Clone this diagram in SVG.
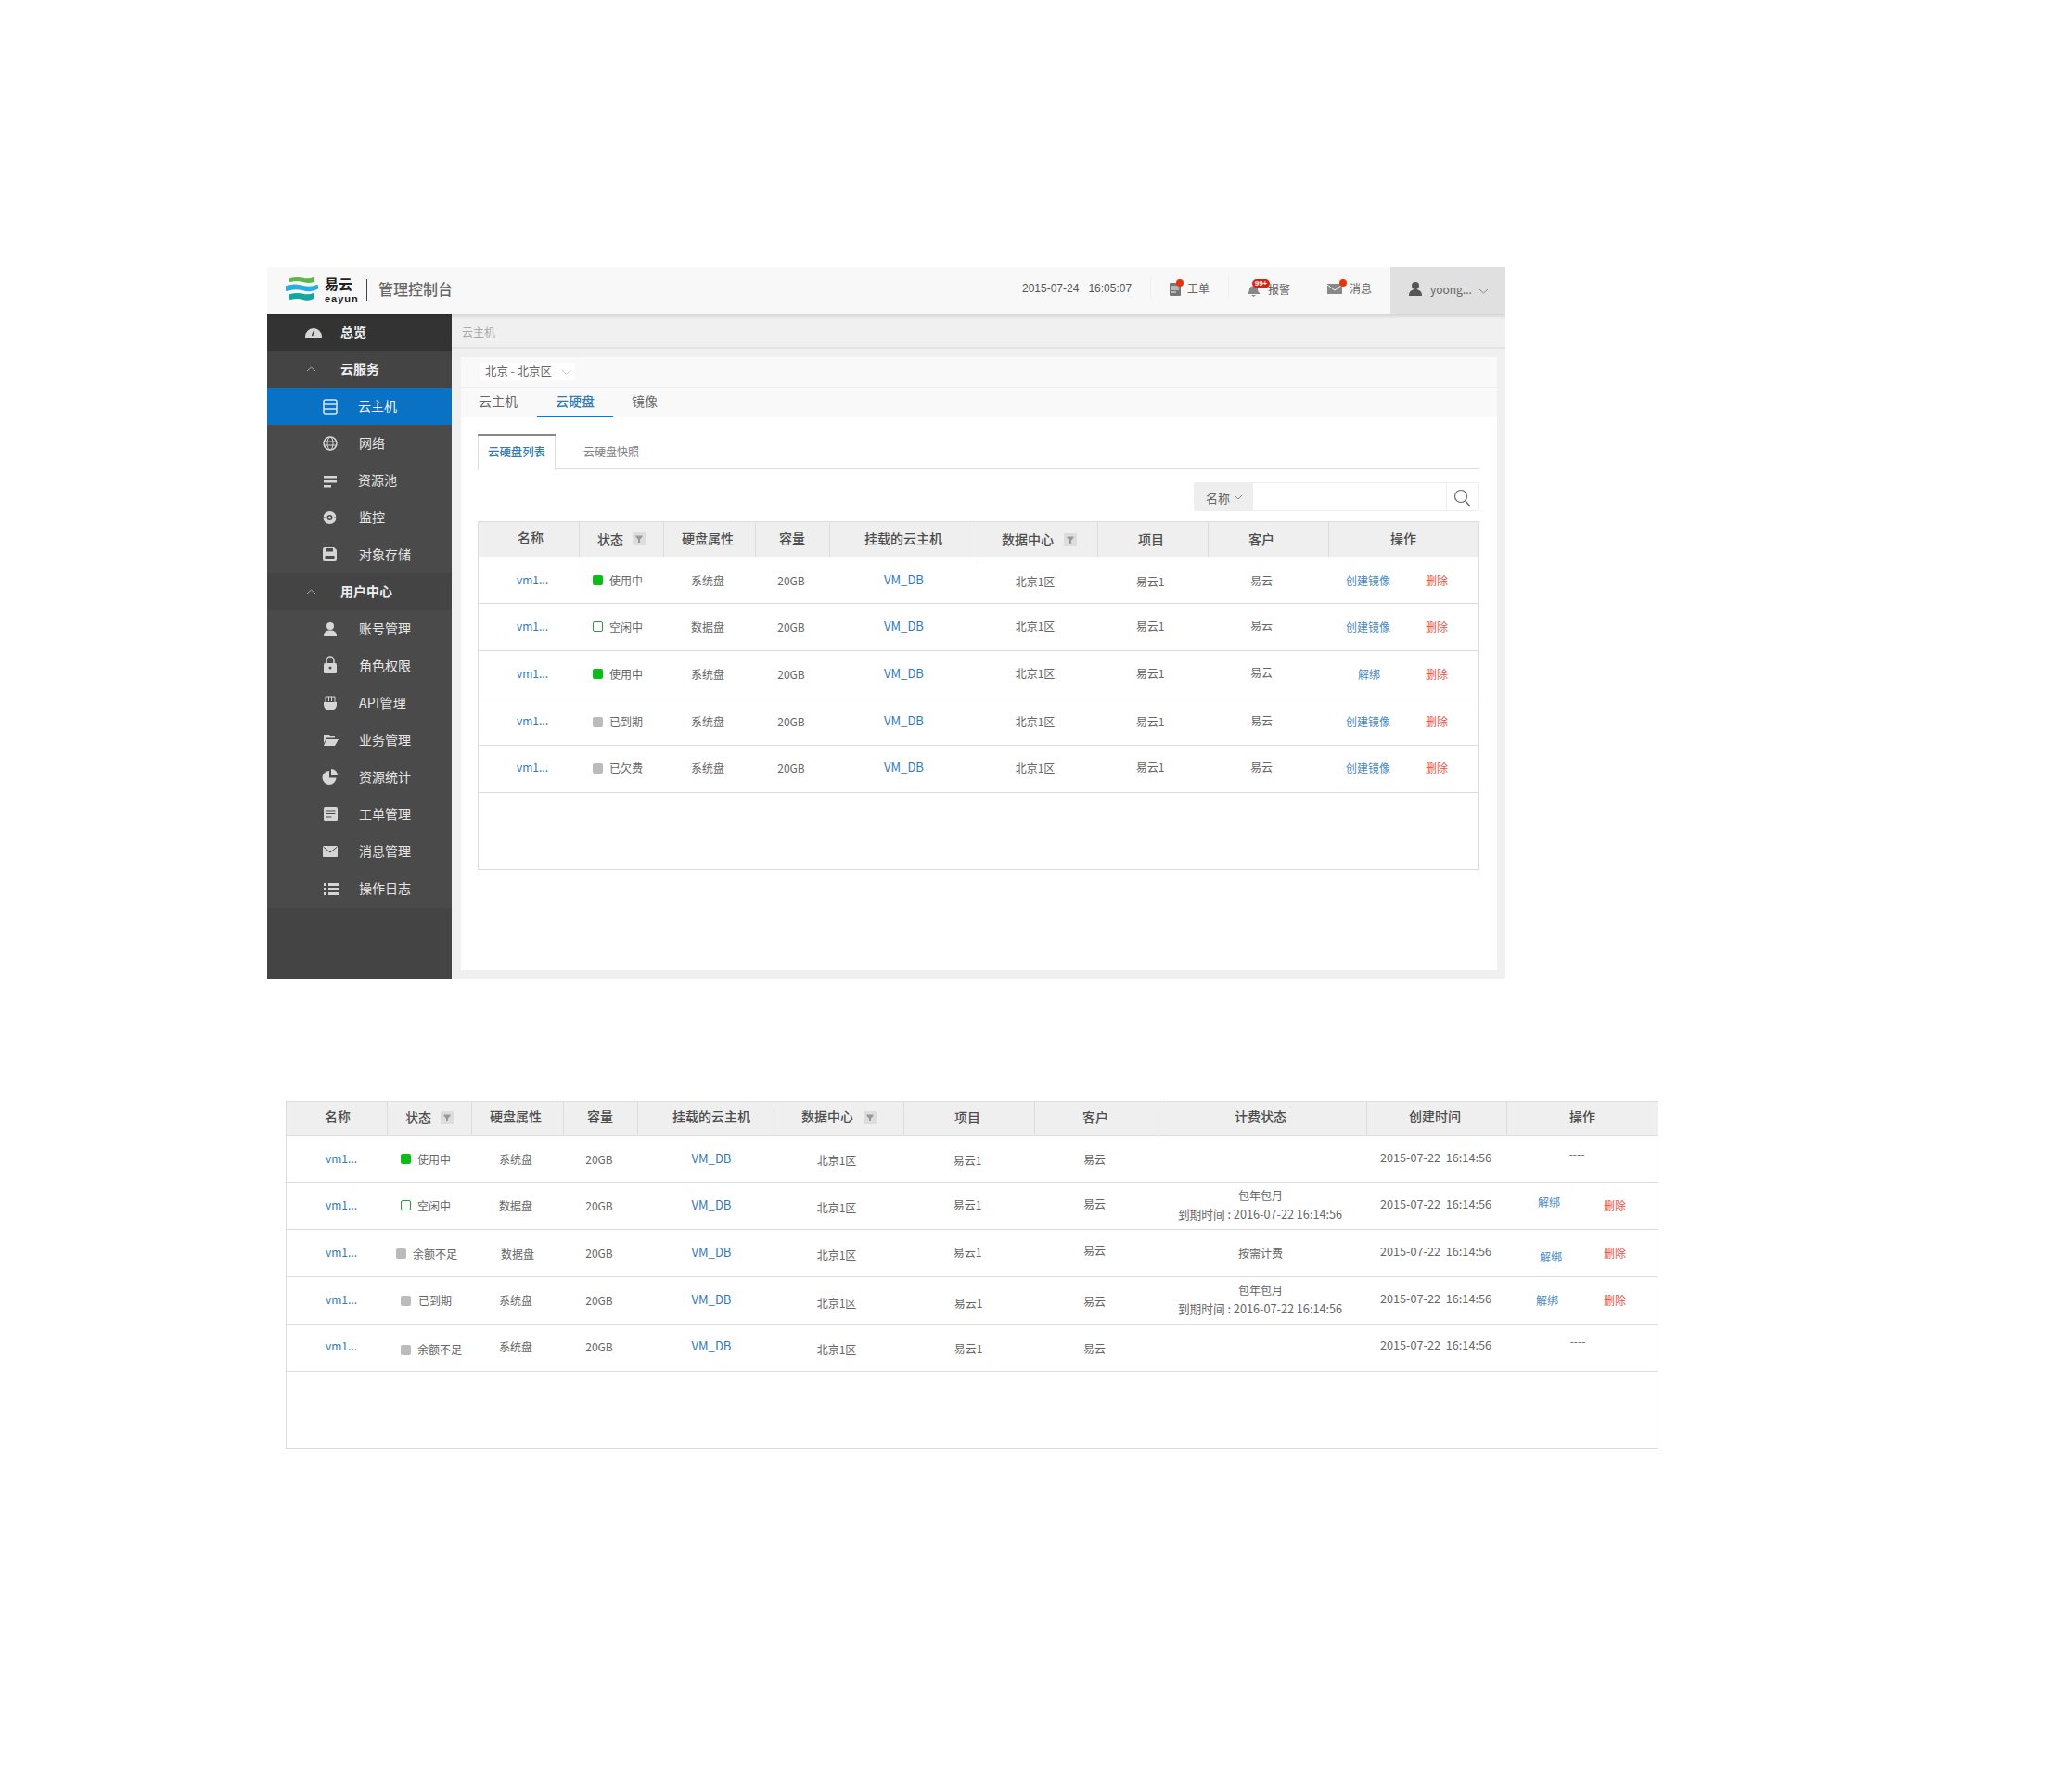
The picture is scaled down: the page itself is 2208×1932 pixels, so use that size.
<svg xmlns="http://www.w3.org/2000/svg" width="2208" height="1932" viewBox="0 0 2208 1932">
<style>
text{font-family:"Noto Sans CJK SC","Noto Sans",sans-serif;dominant-baseline:central;font-size:12px;fill:#666;transform:translateY(-1px)}
.m{text-anchor:middle}
.tm{text-anchor:middle;font-size:12.700px}
.h{font-size:14px;fill:#4d4d4d;font-weight:500;text-anchor:middle}
.l{fill:#2f7ab9;text-anchor:middle}
.v{fill:#2f7ab9;text-anchor:middle;font-size:13px}
.a{fill:#4a8ac6;text-anchor:middle}
.d{fill:#e2553f;text-anchor:middle}
.n{font-size:14px;fill:#e6e6e6}
.nb{font-size:14px;fill:#eee;font-weight:700}
.g{fill:#0bbd14}
.o{fill:#fff;stroke:#2b9a40;stroke-width:1}
.x{fill:#bbb}
.ln{stroke:#ddd;stroke-width:1;fill:none}
.sep{stroke:#dcdcdc;stroke-width:1}
.ic{fill:#d6d6d6}
.ics{fill:none;stroke:#d6d6d6;stroke-width:1.5}
.chev{fill:none;stroke:#888;stroke-width:1}
.fi{fill:#ddd}
.ff{fill:#999}
</style>
<defs>
<g id="flt"><rect width="14" height="14" rx="1" class="fi"/><path d="M3.500 3.500h7v1.500L8 7.500V11H6V7.500L3.500 5z" class="ff"/></g>
<linearGradient id="shadow" x1="0" y1="0" x2="0" y2="1"><stop offset="0" stop-color="#000" stop-opacity=".14"/><stop offset="1" stop-color="#000" stop-opacity="0"/></linearGradient>
</defs>
<rect width="2208" height="1932" fill="#fff"/>

<g id="main-bg">
<rect x="487" y="338" width="1136" height="718" fill="#f0f0f0"/>
<line x1="487" y1="375" x2="1623" y2="375" stroke="#d8d8d8"/>
<text x="498" y="358" style="fill:#aaa">云主机</text>
<rect x="497" y="385" width="1117" height="661" fill="#fff"/>
<rect x="497" y="385" width="1117" height="65" fill="#f9f9f9"/>
<line x1="497" y1="417.500" x2="1614" y2="417.500" stroke="#f0f0f0"/>
</g>

<g id="region-select">
<rect x="517" y="391" width="103" height="19" fill="#fff"/>
<text x="523" y="401" xml:space="preserve" style="font-size:12.400px">北京 - 北京区</text>
<path d="M606 399l4.500 4.500 4.500-4.500" fill="none" stroke="#ccc"/>
</g>

<g id="tabs">
<text x="516" y="433" style="font-size:14px">云主机</text>
<text x="599" y="433" style="font-size:14px;fill:#2f7ab9;font-weight:500">云硬盘</text>
<text x="681" y="433" style="font-size:14px">镜像</text>
<rect x="579" y="448" width="82" height="2" fill="#1a75bc"/>
</g>

<g id="subtabs">
<line x1="515" y1="505.500" x2="1595" y2="505.500" class="ln"/>
<rect x="515.500" y="468.500" width="83" height="38" fill="#fff" stroke="#ddd"/>
<rect x="516" y="505" width="82" height="2" fill="#fff"/>
<rect x="515" y="468" width="84" height="2" fill="#888"/>
<text x="526" y="488" style="fill:#2f7ab9;font-weight:500;font-size:12.400px">云硬盘列表</text>
<text x="629" y="487" style="fill:#808080">云硬盘快照</text>
</g>

<g id="search">
<rect x="1287.500" y="520.500" width="307" height="30" rx="2" fill="#fff" stroke="#eee"/>
<path d="M1287 522.500a2 2 0 0 1 2-2h62v30h-62a2 2 0 0 1-2-2z" fill="#eee"/>
<text x="1300" y="537" style="font-size:13px">名称</text>
<path d="M1331 534l4 4 4-4" class="chev"/>
<line x1="1559.500" y1="521" x2="1559.500" y2="550" stroke="#eee"/>
<circle cx="1575" cy="535" r="6.500" fill="none" stroke="#666" stroke-width="1.200"/>
<line x1="1580" y1="540" x2="1585" y2="546" stroke="#666" stroke-width="1.400"/>
</g>

<g id="table-1">
<rect x="515.500" y="562.500" width="1079" height="375" fill="#fff" stroke="#ddd"/>
<rect x="516" y="563" width="1078" height="37" fill="#efefef"/>
<path class="ln" d="M515 600.500H1595M515 650.500H1595M515 701.500H1595M515 752.500H1595M515 803.500H1595M515 854.500H1595"/>
<path class="sep" d="M624.500 563V600M715.500 563V600M814.500 563V600M894.500 563V600M1055.500 563V604M1183.500 563V600M1302.500 563V600M1432.500 563V600"/>
<text class="h" x="572" y="580">名称</text><text class="h" x="658" y="582">状态</text><use href="#flt" x="682" y="574"/>
<text class="h" x="763" y="581">硬盘属性</text><text class="h" x="854" y="581">容量</text><text class="h" x="974" y="581">挂载的云主机</text>
<text class="h" x="1108" y="582">数据中心</text><use href="#flt" x="1147" y="575"/>
<text class="h" x="1241" y="582">项目</text><text class="h" x="1360" y="582">客户</text><text class="h" x="1513" y="581">操作</text>

<text class="l" x="574" y="625">vm1...</text><text class="l" x="574" y="675">vm1...</text><text class="l" x="574" y="726">vm1...</text><text class="l" x="574" y="777">vm1...</text><text class="l" x="574" y="827">vm1...</text>

<rect class="g" x="639" y="620" width="11" height="11" rx="2"/>
<rect class="o" x="639.500" y="670.500" width="10" height="10" rx="1.500"/>
<rect class="g" x="639" y="721" width="11" height="11" rx="2"/>
<rect class="x" x="639" y="773" width="11" height="11" rx="2"/>
<rect class="x" x="639" y="823" width="11" height="11" rx="2"/>
<text x="657" y="626">使用中</text><text x="657" y="676">空闲中</text><text x="657" y="727">使用中</text><text x="657" y="778">已到期</text><text x="657" y="828">已欠费</text>

<text class="m" x="763" y="626">系统盘</text><text class="m" x="763" y="676">数据盘</text><text class="m" x="763" y="727">系统盘</text><text class="m" x="763" y="778">系统盘</text><text class="m" x="763" y="828">系统盘</text>
<text class="m" x="853" y="626">20GB</text><text class="m" x="853" y="676">20GB</text><text class="m" x="853" y="727">20GB</text><text class="m" x="853" y="778">20GB</text><text class="m" x="853" y="828">20GB</text>
<text class="v" x="974.500" y="625">VM_DB</text><text class="v" x="974.500" y="675">VM_DB</text><text class="v" x="974.500" y="726">VM_DB</text><text class="v" x="974.500" y="777">VM_DB</text><text class="v" x="974.500" y="827">VM_DB</text>
<text class="m" x="1116" y="627">北京1区</text><text class="m" x="1116" y="675">北京1区</text><text class="m" x="1116" y="726">北京1区</text><text class="m" x="1116" y="778">北京1区</text><text class="m" x="1116" y="828">北京1区</text>
<text class="m" x="1240" y="627">易云1</text><text class="m" x="1240" y="675">易云1</text><text class="m" x="1240" y="726">易云1</text><text class="m" x="1240" y="778">易云1</text><text class="m" x="1240" y="827">易云1</text>
<text class="m" x="1360" y="626">易云</text><text class="m" x="1360" y="674">易云</text><text class="m" x="1360" y="725">易云</text><text class="m" x="1360" y="777">易云</text><text class="m" x="1360" y="827">易云</text>
<text class="a" x="1475" y="626">创建镜像</text><text class="a" x="1475" y="676">创建镜像</text><text class="a" x="1476" y="727">解绑</text><text class="a" x="1475" y="778">创建镜像</text><text class="a" x="1475" y="828">创建镜像</text>
<text class="d" x="1549" y="626">删除</text><text class="d" x="1549" y="676">删除</text><text class="d" x="1549" y="727">删除</text><text class="d" x="1549" y="778">删除</text><text class="d" x="1549" y="828">删除</text>
</g>

<g id="sidebar">
<rect x="288" y="338" width="199" height="718" fill="#444"/>
<rect x="288" y="338" width="199" height="40" fill="#333"/>
<rect x="288" y="418" width="199" height="200" fill="#4a4a4a"/>
<rect x="288" y="658" width="199" height="321" fill="#4a4a4a"/>
<rect x="288" y="418" width="199" height="40" fill="#0a72c4"/>
<text class="nb" x="367" y="358">总览</text>
<text class="nb" x="367" y="398">云服务</text>
<text class="n" x="386" y="438" style="fill:#f2f2f2">云主机</text>
<text class="n" x="387" y="478">网络</text>
<text class="n" x="386" y="518">资源池</text>
<text class="n" x="387" y="558">监控</text>
<text class="n" x="387" y="598">对象存储</text>
<text class="nb" x="367" y="638">用户中心</text>
<text class="n" x="387" y="678">账号管理</text>
<text class="n" x="387" y="718">角色权限</text>
<text class="n" x="387" y="758" style="letter-spacing:.3px">API管理</text>
<text class="n" x="387" y="798">业务管理</text>
<text class="n" x="387" y="838">资源统计</text>
<text class="n" x="387" y="878">工单管理</text>
<text class="n" x="387" y="918">消息管理</text>
<text class="n" x="387" y="958">操作日志</text>

<path class="ic" d="M329 364a9 8.500 0 0 1 0-1 9 9 0 0 1 18 0v1z"/><path d="M336.500 362l2-5" stroke="#333" stroke-width="1.500"/>
<path d="M331 400l4.500-4 4.500 4M331 640l4.500-4 4.500 4" fill="none" stroke="#aaa"/>
<rect x="349" y="431" width="14" height="15" rx="2" fill="none" stroke="#d6e8f6" stroke-width="1.500"/>
<path d="M349 436h14M349 441h14" stroke="#d6e8f6" stroke-width="1.500"/>
<circle class="ics" cx="356" cy="478" r="7"/><ellipse class="ics" cx="356" cy="478" rx="3" ry="7" style="stroke-width:1"/><path class="ics" style="stroke-width:1" d="M349 476h14M349 480h14"/>
<path class="ic" d="M349 513h14v2.500h-14zM349 518h14v2.500h-14zM349 523h8v2.500h-8z"/>
<circle class="ic" cx="355.500" cy="558" r="7"/><circle cx="355.500" cy="558" r="3" fill="#4a4a4a"/><circle cx="355.500" cy="558" r="1.500" class="ic"/><path d="M348 558h3M360 558h3" stroke="#4a4a4a"/>
<path class="ic" d="M348 592a2 2 0 0 1 2-2h10l3 3v10a2 2 0 0 1-2 2h-11a2 2 0 0 1-2-2z"/><rect x="351" y="591" width="8" height="3.500" fill="#4a4a4a"/><rect x="350.500" y="599" width="10" height="4" fill="#4a4a4a"/>
<circle class="ic" cx="356" cy="675" r="4"/><path class="ic" d="M349 686c0-5 3-6.500 7-6.500s7 1.500 7 6.500z"/>
<path class="ics" d="M352 715v-3a4 4 0 0 1 8 0v3"/><rect class="ic" x="349" y="715" width="14" height="11" rx="1.500"/><circle cx="356" cy="720" r="1.500" fill="#4a4a4a"/>
<path class="ic" d="M349 757h14v3a7 6 0 0 1-14 0z"/><path class="ics" d="M351 757v-6h10v6M354.500 751v5M357.500 751v5" style="stroke-width:1"/>
<path class="ic" d="M349 792h6l2 2h4v1.500h-9l-3 6zM352 797h13l-4 7h-12z"/>
<path class="ic" d="M355 831a7.500 7.500 0 1 0 7.500 7.500H355z"/><path class="ic" d="M357 829a7 7 0 0 1 7 7h-7z"/>
<rect class="ic" x="349" y="870" width="15" height="15" rx="1.500"/><path d="M351.500 874h10M351.500 877.500h10M351.500 881h6" stroke="#4a4a4a"/>
<rect class="ic" x="348" y="912" width="16" height="12" rx="1"/><path d="M348.500 913l7.500 6 7.500-6" fill="none" stroke="#4a4a4a"/>
<path class="ic" d="M349 952h3v3h-3zM349 957h3v3h-3zM349 962h3v3h-3zM354 952h11v3h-11zM354 957h11v3h-11zM354 962h11v3h-11z"/>
</g>

<g id="topbar">
<rect x="288" y="338" width="1335" height="6" fill="url(#shadow)"/>
<rect x="288" y="288" width="1335" height="50" fill="#f8f8f8"/>
<rect x="1499" y="288" width="124" height="50" fill="#e0e0e0"/>
<g id="logo">
<path d="M313 301q8-2 15 0 6 1 10-1v3q-5 2-11 0-7-2-14 0z" fill="#58b947" stroke="#58b947" stroke-width="2" stroke-linejoin="round"/>
<path d="M309 309q9-3 18 0 8 2 15-1v3q-7 4-16 1-9-2-17 1z" fill="#27aee3" stroke="#27aee3" stroke-width="2" stroke-linejoin="round"/>
<path d="M313 318q8-2 15 0 6 1 10-1v4q-5 3-11 1-7-2-14 0z" fill="#12a8a0" stroke="#12a8a0" stroke-width="2" stroke-linejoin="round"/>
<text x="350" y="306" style="font-size:15px;font-weight:700;fill:#222">易云</text>
<text x="350" y="322.500" style="font-family:'Liberation Sans',sans-serif;font-size:11px;font-weight:700;fill:#222;letter-spacing:1px">eayun</text>
</g>
<line x1="395.500" y1="301" x2="395.500" y2="324" stroke="#444"/>
<text x="408" y="312" style="font-size:16px;fill:#666;font-weight:500">管理控制台</text>
<text x="1102" y="312" style="font-family:'Liberation Sans',sans-serif;fill:#555" xml:space="preserve">2015-07-24   16:05:07</text>
<path d="M1240.500 298V322M1324.500 298V322" stroke="#f0f0f0"/>
<rect x="1261" y="305" width="12" height="14" rx="1" fill="#777"/><path d="M1263 309h8M1263 312h8M1263 315h5" stroke="#f8f8f8"/>
<circle cx="1272" cy="305" r="4" fill="#e5350d"/>
<text x="1280" y="311">工单</text>
<path d="M1345 316q2-1 2-5a5 5 0 0 1 9 0q0 4 2 5v1h-13zM1349 318h5l-2.500 2z" fill="#888"/>
<text x="1367" y="312">报警</text>
<rect x="1350" y="301" width="19" height="9.500" rx="4.700" fill="#d7230f"/>
<text x="1359.500" y="306" class="m" style="font-size:8px;fill:#fff;font-weight:700;font-family:'Liberation Sans',sans-serif">99+</text>
<rect x="1431" y="306" width="16" height="11" fill="#888"/><path d="M1431 307l8 6 8-6" fill="none" stroke="#f8f8f8"/>
<circle cx="1448" cy="305" r="4" fill="#e5350d"/>
<text x="1455" y="311">消息</text>
<circle cx="1526" cy="308" r="4" fill="#555"/><path d="M1519 319c0-5 3-7 7-7s7 2 7 7z" fill="#555"/>
<text x="1542" y="312.500" style="fill:#666">yoong...</text>
<path d="M1595 312l4.500 4 4.500-4" class="chev"/>
</g>

<g id="table-2">
<rect x="308.500" y="1187.500" width="1479" height="374" fill="#fff" stroke="#ddd"/>
<rect x="309" y="1188" width="1478" height="36" fill="#efefef"/>
<path class="ln" d="M308 1224.500H1788M308 1274.500H1788M308 1325.500H1788M308 1376.500H1788M308 1427.500H1788M308 1478.500H1788"/>
<path class="sep" d="M417.500 1188V1224M508.500 1188V1224M607.500 1188V1224M687.500 1188V1224M834.500 1188V1224M974.500 1188V1224M1115.500 1188V1224M1248.500 1188V1227M1473.500 1188V1224M1624.500 1188V1224"/>
<text class="h" x="364" y="1204">名称</text><text class="h" x="451" y="1205">状态</text><use href="#flt" x="475" y="1198"/>
<text class="h" x="556" y="1204">硬盘属性</text><text class="h" x="647" y="1204">容量</text><text class="h" x="767" y="1204">挂载的云主机</text>
<text class="h" x="892" y="1204">数据中心</text><use href="#flt" x="931" y="1198"/>
<text class="h" x="1043" y="1205">项目</text><text class="h" x="1181" y="1205">客户</text><text class="h" x="1359" y="1204">计费状态</text><text class="h" x="1547" y="1204">创建时间</text><text class="h" x="1706" y="1204">操作</text>

<text class="l" x="368" y="1249">vm1...</text><text class="l" x="368" y="1299">vm1...</text><text class="l" x="368" y="1350">vm1...</text><text class="l" x="368" y="1401">vm1...</text><text class="l" x="368" y="1451">vm1...</text>
<rect class="g" x="432" y="1244" width="11" height="11" rx="2"/>
<rect class="o" x="432.500" y="1294.500" width="10" height="10" rx="1.500"/>
<rect class="x" x="427" y="1346" width="11" height="11" rx="2"/>
<rect class="x" x="432" y="1397" width="11" height="11" rx="2"/>
<rect class="x" x="432" y="1450" width="11" height="11" rx="2"/>
<text x="450" y="1250">使用中</text><text x="450" y="1300">空闲中</text><text x="445" y="1352">余额不足</text><text x="451" y="1402">已到期</text><text x="450" y="1455">余额不足</text>
<text class="m" x="556" y="1250">系统盘</text><text class="m" x="556" y="1300">数据盘</text><text class="m" x="558" y="1352">数据盘</text><text class="m" x="556" y="1402">系统盘</text><text class="m" x="556" y="1452">系统盘</text>
<text class="m" x="646" y="1250">20GB</text><text class="m" x="646" y="1300">20GB</text><text class="m" x="646" y="1351">20GB</text><text class="m" x="646" y="1402">20GB</text><text class="m" x="646" y="1452">20GB</text>
<text class="v" x="767" y="1249">VM_DB</text><text class="v" x="767" y="1299">VM_DB</text><text class="v" x="767" y="1350">VM_DB</text><text class="v" x="767" y="1401">VM_DB</text><text class="v" x="767" y="1451">VM_DB</text>
<text class="m" x="902" y="1251">北京1区</text><text class="m" x="902" y="1302">北京1区</text><text class="m" x="902" y="1353">北京1区</text><text class="m" x="902" y="1405">北京1区</text><text class="m" x="902" y="1455">北京1区</text>
<text class="m" x="1043" y="1251">易云1</text><text class="m" x="1043" y="1299">易云1</text><text class="m" x="1043" y="1350">易云1</text><text class="m" x="1044" y="1405">易云1</text><text class="m" x="1044" y="1454">易云1</text>
<text class="m" x="1180" y="1250">易云</text><text class="m" x="1180" y="1298">易云</text><text class="m" x="1180" y="1348">易云</text><text class="m" x="1180" y="1403">易云</text><text class="m" x="1180" y="1454">易云</text>
<text class="m" x="1359" y="1289">包年包月</text><text class="tm" x="1358.500" y="1309">到期时间 : 2016-07-22 16:14:56</text>
<text class="m" x="1359" y="1351">按需计费</text>
<text class="m" x="1359" y="1391">包年包月</text><text class="tm" x="1358.500" y="1411">到期时间 : 2016-07-22 16:14:56</text>
<text class="tm" x="1548" y="1248" xml:space="preserve">2015-07-22  16:14:56</text><text class="tm" x="1548" y="1298" xml:space="preserve">2015-07-22  16:14:56</text><text class="tm" x="1548" y="1349" xml:space="preserve">2015-07-22  16:14:56</text><text class="tm" x="1548" y="1400" xml:space="preserve">2015-07-22  16:14:56</text><text class="tm" x="1548" y="1450" xml:space="preserve">2015-07-22  16:14:56</text>
<text class="m" x="1700" y="1244">----</text><text class="m" x="1701" y="1446">----</text>
<text class="a" x="1670" y="1296">解绑</text><text class="a" x="1672" y="1355">解绑</text><text class="a" x="1668" y="1402">解绑</text>
<text class="d" x="1741" y="1300">删除</text><text class="d" x="1741" y="1351">删除</text><text class="d" x="1741" y="1402">删除</text>
</g>
</svg>
